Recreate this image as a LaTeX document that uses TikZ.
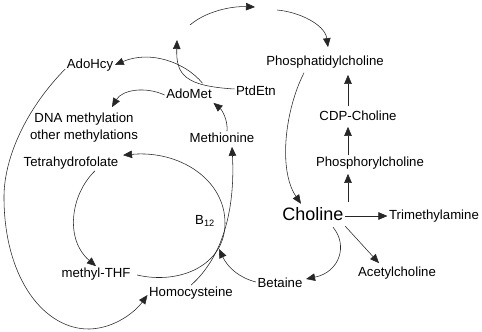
\documentclass[tikz,border=0pt]{standalone}
\usepackage{fontspec}
\setmainfont{Liberation Sans}
\usetikzlibrary{arrows.meta}
\begin{document}
\begin{tikzpicture}[x=1pt,y=-1pt,
  lbl/.style={font=\fontsize{13.2}{17}\selectfont, inner sep=1.5pt, text height=9.5pt, text depth=2.8pt},
  lbltwo/.style={font=\fontsize{13.2}{17}\selectfont, inner sep=1.5pt, align=center},
  big/.style={font=\fontsize{18}{20}\selectfont, inner sep=1.5pt, text height=13pt, text depth=0pt},
  conn/.style={line width=0.55pt, draw=black!85, -{Triangle[length=9pt,width=7.5pt]}}]
\useasboundingbox (0,0) rectangle (482,332);
\fill[white] (0,0) rectangle (482,332);
% nodes
\node[lbl] (pc) at (325,62) {Phosphatidylcholine};
\node[lbl] (cdp) at (358,117) {CDP-Choline};
\node[lbl] (phos) at (370,163) {Phosphorylcholine};
\node[big] (cho) at (313,214) {Choline};
\node[lbl] (tma) at (434,216) {Trimethylamine};
\node[lbl] (ach) at (397,273) {Acetylcholine};
\node[lbl] (bet) at (280,284) {Betaine};
\node[lbl] (hcy) at (191,293) {Homocysteine};
\node[lbl] (mthf) at (96,274) {methyl-THF};
\node[lbl] (b12) at (205,221) {B\textsubscript{12}};
\node[lbl] (thf) at (71,163) {Tetrahydrofolate};
\node[lbl] (met) at (222,139) {Methionine};
\node[lbltwo] (dna) at (84,127.5) {DNA methylation\\other methylations};
\node[lbl] (adomet) at (189,95) {AdoMet};
\node[lbl] (adohcy) at (90,65) {AdoHcy};
\node[lbl] (ptd) at (256,92) {PtdEtn};
% free ends
\coordinate (vx) at (348,0);
\coordinate (t0) at (177,40);
\coordinate (t1) at (190,25);
\coordinate (t2) at (255,7);
\coordinate (t3) at (277,10);
\coordinate (bh) at (219,249);
% PtdEtn -> PC (three methylations)
\draw[conn] ([yshift=3pt]ptd.west) .. controls (185,86) and (176,75) .. (t0);
\draw[conn] (t1) .. controls (205,12) and (230,6) .. (t2);
\draw[conn] (t3) .. controls (300,12) and (325,25) .. ([xshift=3pt,yshift=7pt]pc.north);
% AdoMet -> AdoHcy
\draw[conn] ([xshift=-11pt,yshift=4pt]adomet.north east) .. controls (185,62) and (150,50) .. (adohcy.east);
% AdoMet -> DNA methylation
\draw[conn] (adomet.west) .. controls (145,86) and (122,90) .. ([xshift=28pt,yshift=4pt]dna.north);
% Methionine -> AdoMet
\draw[conn] ([xshift=5pt]met.north) .. controls (228,120) and (222,110) .. (adomet.south east);
% Homocysteine -> Methionine
\draw[conn] (hcy.north) .. controls (225,255) and (235,205) .. ([xshift=10pt]met.south);
% methyl-THF -> THF
\draw[conn] ([xshift=5pt,yshift=-1pt]mthf.east) .. controls (180,285) and (225,265) .. (225,223)
   .. controls (225,180) and (180,150) .. ([xshift=3pt]thf.north east);
% THF -> methyl-THF
\draw[conn] ([xshift=24pt]thf.south) .. controls (70,195) and (65,240) .. (mthf.north);
% AdoHcy -> Homocysteine
\draw[conn] ([yshift=-4pt]adohcy.west) .. controls (25,110) and (3,160) .. (4,200)
   .. controls (5,280) and (45,330) .. (90,329)
   .. controls (115,328) and (135,312) .. ([yshift=-2pt]hcy.west);
% PC -> Choline
\draw[conn] ([xshift=-21pt,yshift=-3pt]pc.south) .. controls (285,110) and (278,170) .. ([xshift=-12pt,yshift=2pt]cho.north);
% Choline -> Betaine
\draw[conn] ([xshift=20pt,yshift=-5pt]cho.south) .. controls (348,245) and (340,272) .. ([xshift=2pt,yshift=5pt]bet.east);
% Betaine -> Homocysteine/Methionine
\draw[conn] ([yshift=2pt]bet.west) .. controls (240,278) and (228,268) .. (bh);
% Choline -> Trimethylamine
\draw[conn] (cho.east |- tma.west) -- (tma.west);
% Choline -> Acetylcholine
\draw[conn] ([yshift=-4pt]cho.south east) -- ([xshift=-18pt,yshift=2pt]ach.north);
% Choline -> Phosphorylcholine -> CDP-Choline -> PC
\draw[conn, shorten <=4pt, shorten >=3pt] (cho.north -| vx) -- (phos.south -| vx);
\draw[conn, shorten >=2pt] (phos.north -| vx) -- (cdp.south -| vx);
\draw[conn, shorten <=3pt, shorten >=5pt] (cdp.north -| vx) -- (pc.south -| vx);
\end{tikzpicture}
\end{document}
